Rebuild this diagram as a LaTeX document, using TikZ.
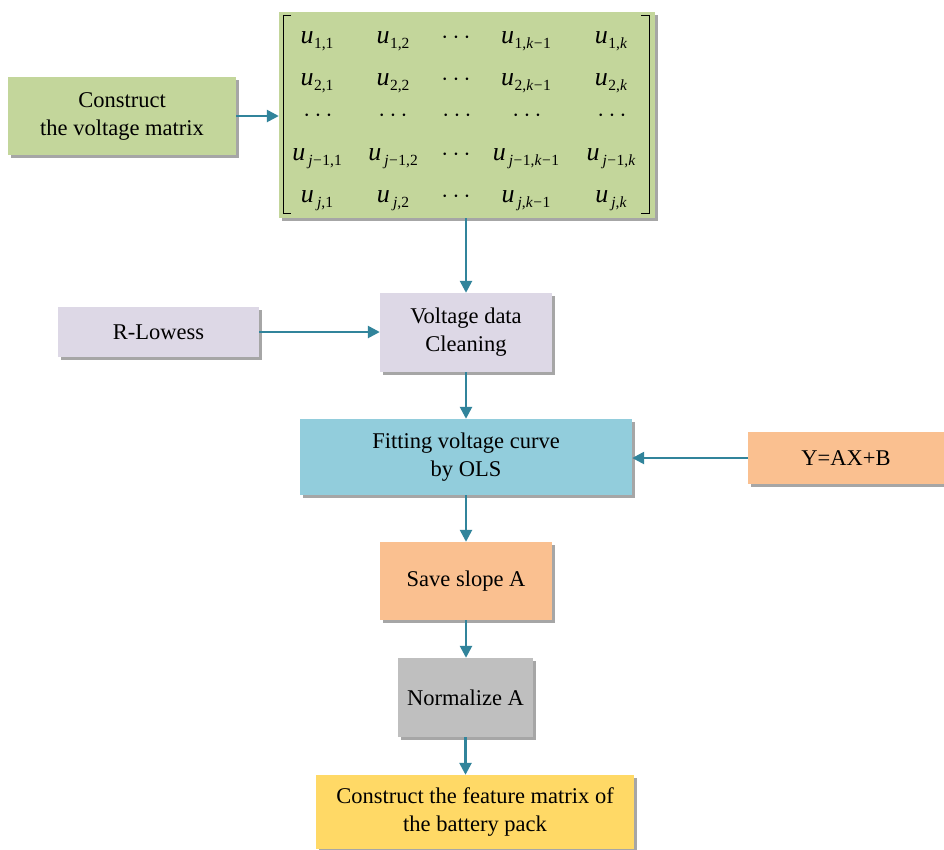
\documentclass[tikz,border=0pt]{standalone}
\usepackage{fontspec}
\setmainfont{Liberation Serif}
\usetikzlibrary{arrows.meta,shadows}
\definecolor{cgreen}{HTML}{C3D69B}
\definecolor{clav}{HTML}{DDD8E6}
\definecolor{cblue}{HTML}{92CDDC}
\definecolor{cpeach}{HTML}{FAC090}
\definecolor{cgray}{HTML}{BFBFBF}
\definecolor{cyel}{HTML}{FFD966}
\definecolor{carrow}{HTML}{31849B}
\newcommand\uent[1]{\textit{u}\kern0.5pt\raisebox{-5pt}{\fontsize{15.5}{15.5}\selectfont #1}}
\newcommand\mn{\kern0.5pt−\kern0.5pt}
\newcommand\hdots{{\fontsize{30}{30}\selectfont$\cdots$}}
\begin{document}
\begin{tikzpicture}[x=1pt,y=-1pt,
  box/.style={rectangle,align=center,font=\fontsize{22.5}{28}\selectfont,inner sep=0pt,
     drop shadow={shadow xshift=2.5pt,shadow yshift=-2.5pt,opacity=0.35,fill=black}},
  arr/.style={draw=carrow,line width=2.5pt,-{Triangle[length=12pt,width=12pt]}},
  ent/.style={font=\fontsize{26}{26}\selectfont,inner sep=0pt,anchor=base},
  brk/.style={line width=1pt,draw=black}]
\useasboundingbox (0,0) rectangle (944,849);
\fill[white] (0,0) rectangle (944,849);
\node[box,fill=cgreen,minimum width=228pt,minimum height=78pt] (cons) at (122,116) {Construct\\the voltage matrix};
\node[box,fill=cgreen,minimum width=376pt,minimum height=206pt] (mat) at (467,115) {};
\node[box,fill=clav,minimum width=172pt,minimum height=79pt] (clean) at (466,332.5) {Voltage data\\Cleaning};
\node[box,fill=clav,minimum width=201pt,minimum height=50pt] (rl) at (158.5,332) {R-Lowess};
\node[box,fill=cblue,minimum width=332pt,minimum height=76pt] (fit) at (466,457) {Fitting voltage curve\\by OLS};
\node[box,fill=cpeach,minimum width=196pt,minimum height=52pt] (yax) at (846,458) {Y=AX+B};
\node[box,fill=cpeach,minimum width=172pt,minimum height=78pt] (save) at (466,581) {Save slope A};
\node[box,fill=cgray,minimum width=135pt,minimum height=79pt] (norm) at (465.5,697.5) {Normalize A};
\node[box,fill=cyel,minimum width=318pt,minimum height=74pt] (feat) at (475,812) {Construct the feature matrix of\\the battery pack};
% matrix brackets
\draw[brk] (291,15) -- (283,15) -- (283,213) -- (291,213);
\draw[brk] (641,15) -- (649,15) -- (649,213) -- (641,213);
% entries
\node[ent] (m11) at (317,43) {\uent{1,1}};
\node[ent] (m12) at (393,43) {\uent{1,2}};
\node[ent] (m13) at (456,43) {\hdots};
\node[ent] (m14) at (526,43) {\uent{1,\textit{k}\mn1}};
\node[ent] (m15) at (611,43) {\uent{1,\textit{k}}};
\node[ent] (m21) at (317,85) {\uent{2,1}};
\node[ent] (m22) at (393,85) {\uent{2,2}};
\node[ent] (m23) at (456,85) {\hdots};
\node[ent] (m24) at (526,85) {\uent{2,\textit{k}\mn1}};
\node[ent] (m25) at (611,85) {\uent{2,\textit{k}}};
\node[ent] (m31) at (318,121) {\hdots};
\node[ent] (m32) at (393,121) {\hdots};
\node[ent] (m33) at (457,121) {\hdots};
\node[ent] (m34) at (527,121) {\hdots};
\node[ent] (m35) at (612,121) {\hdots};
\node[ent] (m41) at (317,160) {\uent{\,\textit{j}\mn1,1}};
\node[ent] (m42) at (393,160) {\uent{\,\textit{j}\mn1,2}};
\node[ent] (m43) at (456,160) {\hdots};
\node[ent] (m44) at (526,160) {\uent{\,\textit{j}\mn1,\textit{k}\mn1}};
\node[ent] (m45) at (611,160) {\uent{\,\textit{j}\mn1,\textit{k}}};
\node[ent] (m51) at (317,202) {\uent{\,\textit{j},1}};
\node[ent] (m52) at (393,202) {\uent{\,\textit{j},2}};
\node[ent] (m53) at (456,202) {\hdots};
\node[ent] (m54) at (526,202) {\uent{\,\textit{j},\textit{k}\mn1}};
\node[ent] (m55) at (611,202) {\uent{\,\textit{j},\textit{k}}};
% arrows
\draw[arr] (cons.east) -- (mat.west |- cons.east);
\draw[arr] (clean.north |- mat.south) -- (clean.north);
\draw[arr] (rl.east) -- (clean.west |- rl.east);
\draw[arr] (clean.south) -- (fit.north);
\draw[arr] (yax.west) -- (fit.east |- yax.west);
\draw[arr] (fit.south) -- (save.north);
\draw[arr] (save.south) -- (save.south |- norm.north);
\draw[arr] (norm.south) -- (norm.south |- feat.north);
\end{tikzpicture}
\end{document}
